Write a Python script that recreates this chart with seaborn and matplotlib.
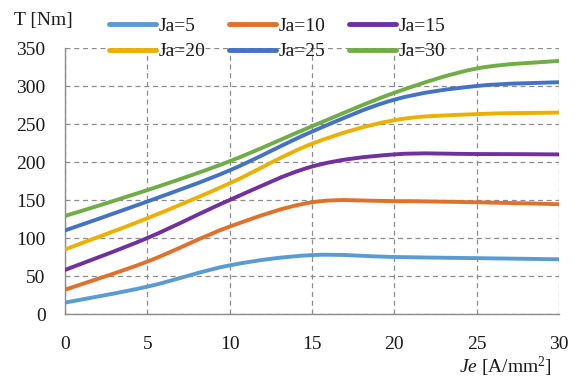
import numpy as np
import pandas as pd
import matplotlib
matplotlib.use("Agg")
import matplotlib.pyplot as plt
import seaborn as sns
from matplotlib.path import Path
from matplotlib.patches import PathPatch
from matplotlib.lines import Line2D

je = [0, 5, 10, 15, 20, 25, 30]
ja5 = [15, 36, 64, 77.5, 75, 73.5, 72]
ja10 = [32, 69, 115, 147, 148.5, 147, 144.5]
ja15 = [58, 100, 150, 194, 210, 210.5, 210]
ja20 = [85, 126, 172, 224, 255, 263, 265]
ja25 = [110, 148, 189, 240, 282, 300, 305]
ja30 = [129, 163, 201, 247, 291, 323, 333]
labels = ["Ja=5", "Ja=10", "Ja=15", "Ja=20", "Ja=25", "Ja=30"]
colors = ["#5B9BD5", "#E0702C", "#7030A0", "#EBB000", "#4472C4", "#70AD47"]

series = [ja5, ja10, ja15, ja20, ja25, ja30]
df = pd.concat([pd.DataFrame({"Je": je, "T": s, "Ja": lab}) for s, lab in zip(series, labels)])

sns.set_theme(style="white")
plt.rcParams["font.family"] = ["Liberation Serif", "DejaVu Serif"]
plt.rcParams["mathtext.fontset"] = "custom"
plt.rcParams["mathtext.rm"] = "Liberation Serif"
plt.rcParams["mathtext.it"] = "Liberation Serif:italic"

fig = plt.figure(figsize=(5.78, 3.78), dpi=100)
ax = fig.add_axes([0.1125, 0.1693, 0.967 - 0.1125, 0.873 - 0.1693])

sns.lineplot(data=df, x="Je", y="T", hue="Ja", palette=colors, ax=ax, legend=False, linewidth=2.8)

# Replace straight segments with Excel-style smooth curves through the same points
for line in list(ax.get_lines()):
    xd = np.asarray(line.get_xdata(), float)
    yd = np.asarray(line.get_ydata(), float)
    pts = np.column_stack([xd, yd])
    n = len(pts)
    verts = [pts[0]]
    codes = [Path.MOVETO]
    for i in range(n - 1):
        p0 = pts[i - 1] if i > 0 else pts[i]
        p1 = pts[i]
        p2 = pts[i + 1]
        p3 = pts[i + 2] if i + 2 < n else pts[i + 1]
        c1 = p1 + (p2 - p0) / 6.0
        c2 = p2 - (p3 - p1) / 6.0
        verts += [c1, c2, p2]
        codes += [Path.CURVE4] * 3
    patch = PathPatch(Path(verts, codes), fill=False, edgecolor=line.get_color(),
                      linewidth=2.8, capstyle="round", joinstyle="round", zorder=3)
    ax.add_patch(patch)
    line.set_visible(False)

ax.set_xlim(0, 30)
ax.set_ylim(0, 350)
ax.set_xticks([0, 5, 10, 15, 20, 25, 30])
ax.set_yticks(range(0, 351, 50))
ax.grid(True, color="#8c8c8c", linestyle=(0, (4, 3)), linewidth=0.9)
ax.set_axisbelow(True)
for s in ["top", "right"]:
    ax.spines[s].set_visible(False)
for s in ["left", "bottom"]:
    ax.spines[s].set_color("#8c8c8c")
    ax.spines[s].set_linewidth(1.0)
ax.tick_params(axis="both", which="major", labelsize=14, colors="#8c8c8c",
               labelcolor="#1a1a1a", length=5, width=1.0, direction="out")
ax.tick_params(axis="y", pad=9)
ax.tick_params(axis="x", pad=11)
ax.set_xlabel("")
ax.set_ylabel("")

fig.text(0.024, 0.945, "T [Nm]", fontsize=14, color="#1a1a1a", va="center", ha="left")
fig.text(0.955, 0.03, r"$\mathit{Je}$ [A/mm$^2$]", fontsize=14, color="#1a1a1a",
         va="center", ha="right")

order = [0, 3, 1, 4, 2, 5]
handles = [Line2D([0], [0], color=colors[i], linewidth=3.5, solid_capstyle="round") for i in order]
leg = fig.legend(handles, [labels[i] for i in order], ncol=3, loc="center",
                 bbox_to_anchor=(0.48, 0.897), frameon=False, fontsize=14,
                 handlelength=2.4, handletextpad=0.15, columnspacing=1.2,
                 labelspacing=0.4, borderaxespad=0)
for t in leg.get_texts():
    t.set_color("#1a1a1a")

fig.savefig("out.png", dpi=100)
